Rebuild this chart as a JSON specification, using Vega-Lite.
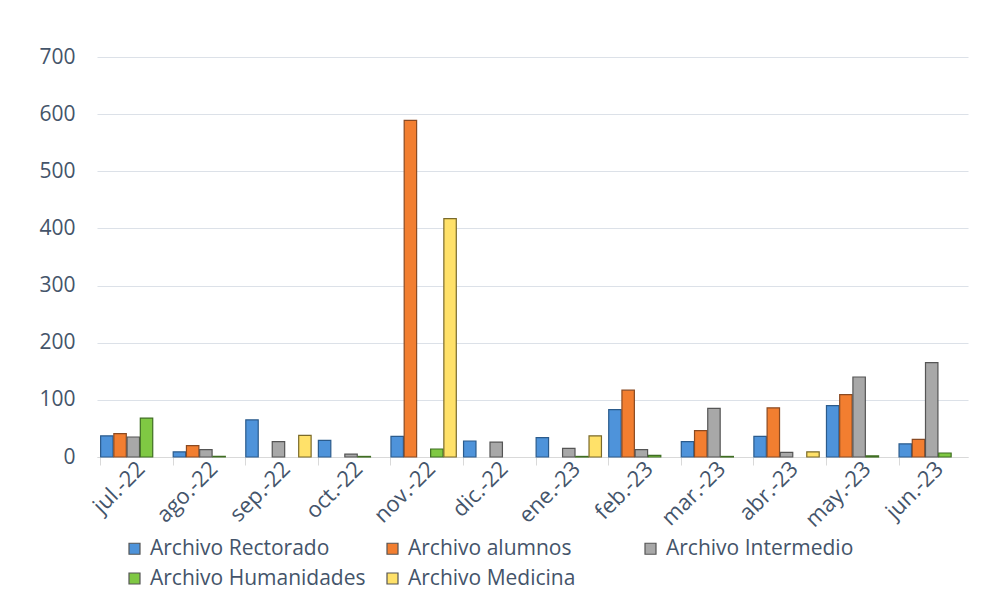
{
  "$schema": "https://vega.github.io/schema/vega-lite/v6.json",
  "width": 871,
  "height": 400,
  "autosize": {"type": "none"},
  "padding": {"left": 97, "top": 57, "right": 24, "bottom": 145},
  "background": "white",
  "config": {
    "view": {"stroke": null},
    "font": "Open Sans"
  },
  "data": {
    "values": [
      {"mes": "jul.-22", "serie": "Archivo Rectorado", "valor": 37},
      {"mes": "jul.-22", "serie": "Archivo alumnos", "valor": 41},
      {"mes": "jul.-22", "serie": "Archivo Intermedio", "valor": 35},
      {"mes": "jul.-22", "serie": "Archivo Humanidades", "valor": 68},
      {"mes": "jul.-22", "serie": "Archivo Medicina", "valor": 0},
      {"mes": "ago.-22", "serie": "Archivo Rectorado", "valor": 9},
      {"mes": "ago.-22", "serie": "Archivo alumnos", "valor": 20},
      {"mes": "ago.-22", "serie": "Archivo Intermedio", "valor": 13},
      {"mes": "ago.-22", "serie": "Archivo Humanidades", "valor": 1},
      {"mes": "ago.-22", "serie": "Archivo Medicina", "valor": 0},
      {"mes": "sep.-22", "serie": "Archivo Rectorado", "valor": 65},
      {"mes": "sep.-22", "serie": "Archivo alumnos", "valor": 0},
      {"mes": "sep.-22", "serie": "Archivo Intermedio", "valor": 27},
      {"mes": "sep.-22", "serie": "Archivo Humanidades", "valor": 0},
      {"mes": "sep.-22", "serie": "Archivo Medicina", "valor": 38},
      {"mes": "oct.-22", "serie": "Archivo Rectorado", "valor": 29},
      {"mes": "oct.-22", "serie": "Archivo alumnos", "valor": 0},
      {"mes": "oct.-22", "serie": "Archivo Intermedio", "valor": 5},
      {"mes": "oct.-22", "serie": "Archivo Humanidades", "valor": 1},
      {"mes": "oct.-22", "serie": "Archivo Medicina", "valor": 0},
      {"mes": "nov.-22", "serie": "Archivo Rectorado", "valor": 36},
      {"mes": "nov.-22", "serie": "Archivo alumnos", "valor": 589},
      {"mes": "nov.-22", "serie": "Archivo Intermedio", "valor": 0},
      {"mes": "nov.-22", "serie": "Archivo Humanidades", "valor": 14},
      {"mes": "nov.-22", "serie": "Archivo Medicina", "valor": 417},
      {"mes": "dic.-22", "serie": "Archivo Rectorado", "valor": 28},
      {"mes": "dic.-22", "serie": "Archivo alumnos", "valor": 0},
      {"mes": "dic.-22", "serie": "Archivo Intermedio", "valor": 26},
      {"mes": "dic.-22", "serie": "Archivo Humanidades", "valor": 0},
      {"mes": "dic.-22", "serie": "Archivo Medicina", "valor": 0},
      {"mes": "ene.-23", "serie": "Archivo Rectorado", "valor": 34},
      {"mes": "ene.-23", "serie": "Archivo alumnos", "valor": 0},
      {"mes": "ene.-23", "serie": "Archivo Intermedio", "valor": 15},
      {"mes": "ene.-23", "serie": "Archivo Humanidades", "valor": 1},
      {"mes": "ene.-23", "serie": "Archivo Medicina", "valor": 37},
      {"mes": "feb.-23", "serie": "Archivo Rectorado", "valor": 83},
      {"mes": "feb.-23", "serie": "Archivo alumnos", "valor": 117},
      {"mes": "feb.-23", "serie": "Archivo Intermedio", "valor": 13},
      {"mes": "feb.-23", "serie": "Archivo Humanidades", "valor": 3},
      {"mes": "feb.-23", "serie": "Archivo Medicina", "valor": 0},
      {"mes": "mar.-23", "serie": "Archivo Rectorado", "valor": 27},
      {"mes": "mar.-23", "serie": "Archivo alumnos", "valor": 46},
      {"mes": "mar.-23", "serie": "Archivo Intermedio", "valor": 85},
      {"mes": "mar.-23", "serie": "Archivo Humanidades", "valor": 1},
      {"mes": "mar.-23", "serie": "Archivo Medicina", "valor": 0},
      {"mes": "abr.-23", "serie": "Archivo Rectorado", "valor": 36},
      {"mes": "abr.-23", "serie": "Archivo alumnos", "valor": 86},
      {"mes": "abr.-23", "serie": "Archivo Intermedio", "valor": 8},
      {"mes": "abr.-23", "serie": "Archivo Humanidades", "valor": 0},
      {"mes": "abr.-23", "serie": "Archivo Medicina", "valor": 9},
      {"mes": "may.-23", "serie": "Archivo Rectorado", "valor": 90},
      {"mes": "may.-23", "serie": "Archivo alumnos", "valor": 109},
      {"mes": "may.-23", "serie": "Archivo Intermedio", "valor": 140},
      {"mes": "may.-23", "serie": "Archivo Humanidades", "valor": 2},
      {"mes": "may.-23", "serie": "Archivo Medicina", "valor": 0},
      {"mes": "jun.-23", "serie": "Archivo Rectorado", "valor": 23},
      {"mes": "jun.-23", "serie": "Archivo alumnos", "valor": 31},
      {"mes": "jun.-23", "serie": "Archivo Intermedio", "valor": 165},
      {"mes": "jun.-23", "serie": "Archivo Humanidades", "valor": 7},
      {"mes": "jun.-23", "serie": "Archivo Medicina", "valor": 0}
    ]
  },
  "mark": {"type": "bar", "strokeWidth": 1.2},
  "encoding": {
    "x": {
      "field": "mes",
      "type": "nominal",
      "sort": ["jul.-22","ago.-22","sep.-22","oct.-22","nov.-22","dic.-22","ene.-23","feb.-23","mar.-23","abr.-23","may.-23","jun.-23"],
      "scale": {"paddingInner": 0.1, "paddingOuter": 0.05},
      "axis": {
        "title": null,
        "bandPosition": 0,
        "labelOffset": 8,
        "labelAngle": -45,
        "labelAlign": "right",
        "labelBaseline": "middle",
        "labelFontSize": 22,
        "labelColor": "#44546A",
        "labelPadding": 0,
        "domainColor": "#D9D9D9",
        "domainWidth": 1,
        "tickColor": "#D9D9D9",
        "tickSize": 8,
        "grid": false
      }
    },
    "xOffset": {
      "field": "serie",
      "type": "nominal",
      "sort": ["Archivo Rectorado","Archivo alumnos","Archivo Intermedio","Archivo Humanidades","Archivo Medicina"],
      "scale": {"paddingInner": 0.06, "paddingOuter": 0}
    },
    "y": {
      "field": "valor",
      "type": "quantitative",
      "scale": {"domain": [0, 700], "nice": false},
      "axis": {
        "title": null,
        "values": [0,100,200,300,400,500,600,700],
        "labelFontSize": 21,
        "labelColor": "#44546A",
        "labelPadding": 22,
        "domain": false,
        "ticks": false,
        "gridColor": "#DCE1E8",
        "gridWidth": 1.2
      }
    },
    "strokeOpacity": {
      "condition": {"test": "datum.valor == 0", "value": 0},
      "value": 1
    },
    "fill": {
      "field": "serie",
      "type": "nominal",
      "sort": ["Archivo Rectorado","Archivo alumnos","Archivo Intermedio","Archivo Humanidades","Archivo Medicina"],
      "scale": {"range": ["#4E93DA","#F27E30","#A8A8A8","#7FC843","#FFE169"]},
      "legend": {
        "title": null,
        "orient": "none",
        "legendX": 27,
        "legendY": 481,
        "direction": "horizontal",
        "columns": 3,
        "gridAlign": "all",
        "columnPadding": 16,
        "rowPadding": 8,
        "padding": 0,
        "symbolType": "square",
        "symbolSize": 121,
        "symbolStrokeWidth": 1.2,
        "symbolStrokeColor": "#555555",
        "labelFontSize": 21,
        "labelColor": "#44546A",
        "labelOffset": 5,
        "labelLimit": 400
      }
    },
    "stroke": {
      "field": "serie",
      "type": "nominal",
      "sort": ["Archivo Rectorado","Archivo alumnos","Archivo Intermedio","Archivo Humanidades","Archivo Medicina"],
      "scale": {"range": ["#2B5B8C","#8A4A22","#555555","#3F6E22","#7A6A2A"]},
      "legend": null
    }
  }
}
